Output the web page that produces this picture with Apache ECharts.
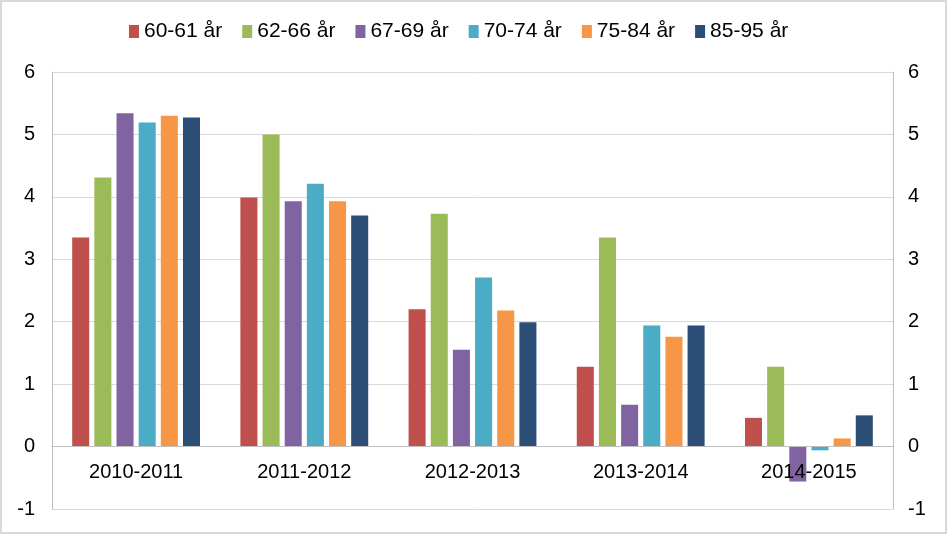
<!DOCTYPE html>
<html>
<head>
<meta charset="utf-8">
<script src="https://cdn.jsdelivr.net/npm/echarts@6/dist/echarts.min.js"></script>
<style>
  html, body { margin: 0; padding: 0; background: #fff; }
  #chart { width: 947px; height: 534px; box-sizing: border-box; border: 2px solid #d9d9d9; }
</style>
</head>
<body>
<div id="chart"></div>
<script>
// perioder och åldersgrupper
const categories = ['2010-2011', '2011-2012', '2012-2013', '2013-2014', '2014-2015'];
const seriesNames = ['60-61 år', '62-66 år', '67-69 år', '70-74 år', '75-84 år', '85-95 år'];
const colors = ['#c0504d', '#9bbb59', '#8064a2', '#4bacc6', '#f79646', '#2c4d75'];

const age60_61 = [3.35, 3.99, 2.20, 1.28, 0.46];
const age62_66 = [4.31, 5.00, 3.73, 3.35, 1.28];
const age67_69 = [5.34, 3.93, 1.55, 0.67, -0.56];
const age70_74 = [5.19, 4.21, 2.71, 1.94, -0.06];
const age75_84 = [5.30, 3.93, 2.18, 1.76, 0.13];
const age85_95 = [5.27, 3.70, 1.99, 1.94, 0.50];

const yTicks = { min: -1, max: 6, interval: 1 };

const values = [age60_61, age62_66, age67_69, age70_74, age75_84, age85_95];

const font = 'Liberation Sans, Arial, sans-serif';

const gridTop = 70, gridBottom = 23;
const chartEl = document.getElementById('chart');
const chart = echarts.init(chartEl);

// x-axeln ska ligga vid noll: flytta upp den en skalsteg från botten
const plotHeight = chartEl.clientHeight - gridTop - gridBottom;
const zeroOffset = -plotHeight * (0 - yTicks.min) / (yTicks.max - yTicks.min);

const series = seriesNames.map((name, i) => ({
  name: name,
  type: 'bar',
  data: values[i],
  itemStyle: { color: colors[i] },
  barGap: '30%',
  barCategoryGap: '24%'
}));

const yAxisBase = {
  type: 'value',
  min: yTicks.min,
  max: yTicks.max,
  interval: yTicks.interval,
  axisLine: { show: true, lineStyle: { color: '#bfbfbf', width: 1 } },
  axisTick: { show: false },
  axisLabel: { color: '#000', fontSize: 20, fontFamily: font, margin: 15 },
  splitLine: { show: true, lineStyle: { color: '#d9d9d9', width: 1 } }
};

chart.setOption({
  animation: false,
  textStyle: { fontFamily: font },
  legend: {
    data: seriesNames,
    top: 14,
    left: 122,
    itemWidth: 10,
    itemHeight: 13,
    itemGap: 20,
    icon: 'rect',
    textStyle: { color: '#000', fontSize: 21, fontFamily: font }
  },
  grid: { left: 50, right: 52, top: gridTop, bottom: gridBottom, containLabel: false, outerBoundsMode: 'none' },
  xAxis: {
    type: 'category',
    data: categories,
    position: 'bottom',
    offset: zeroOffset,
    z: 5,
    axisLine: { show: true, onZero: false, lineStyle: { color: '#bfbfbf', width: 1 } },
    axisTick: { show: false },
    axisLabel: { color: '#000', fontSize: 20, fontFamily: font, margin: 16 }
  },
  yAxis: [
    Object.assign({}, yAxisBase, { position: 'left', axisLabel: Object.assign({}, yAxisBase.axisLabel, { margin: 17 }) }),
    Object.assign({}, yAxisBase, { position: 'right', splitLine: { show: false } })
  ],
  series: series
});

window.addEventListener('resize', () => chart.resize());
</script>
</body>
</html>
